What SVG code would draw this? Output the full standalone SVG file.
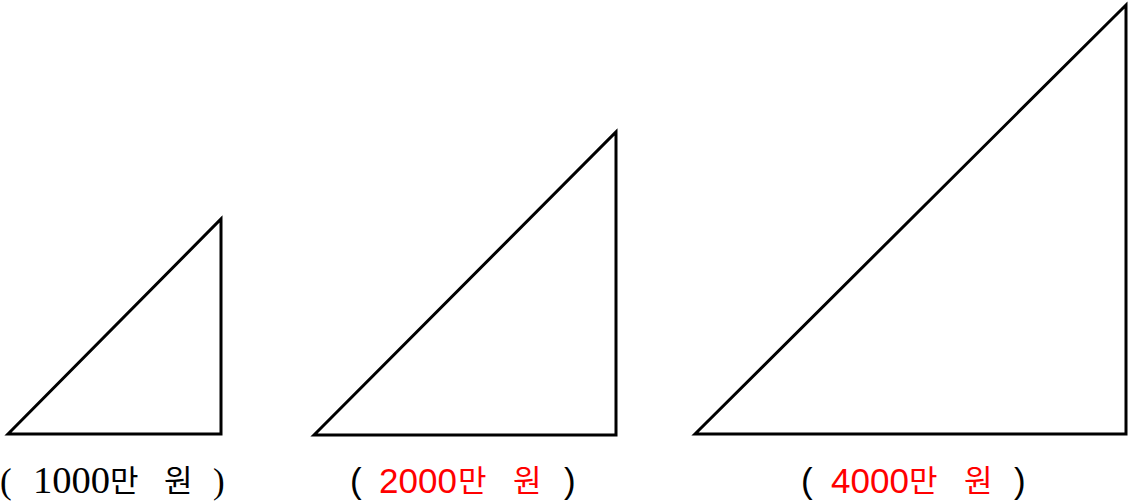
<svg xmlns="http://www.w3.org/2000/svg" width="1128" height="502" viewBox="0 0 1128 502">
<style>
.tri{fill:none;stroke:#000;stroke-width:3;stroke-linejoin:miter}
.serif{font-family:"Liberation Serif","Noto Sans CJK KR",serif;font-size:35px;fill:#000}
.sans{font-family:"Liberation Sans","Noto Sans CJK KR",sans-serif;font-size:35px}
.kr{font-family:"Noto Sans CJK KR",sans-serif;font-size:31px}
.blk{fill:#000}
.red{fill:#ff0000}
</style>
<rect width="1128" height="502" fill="#fff"/>
<g id="tri1"><polygon class="tri" points="8,434 221,219 221,434"/></g>
<g id="tri2"><polygon class="tri" points="314,435 616,132 616,435"/></g>
<g id="tri3"><polygon class="tri" points="695,434 1126,5 1126,434"/></g>
<g id="label1" class="serif">
<text x="0" y="493">(</text>
<text x="33" y="493" font-size="37" textLength="77" lengthAdjust="spacingAndGlyphs">1000</text>
<text class="kr" x="110" y="492">만</text>
<text class="kr" x="164" y="492">원</text>
<text x="213" y="493">)</text>
</g>
<g id="label2" class="sans">
<text class="blk" x="350" y="493">(</text>
<text class="red" x="379" y="493">2000</text>
<text class="red kr" x="458" y="492">만</text>
<text class="red kr" x="513" y="492">원</text>
<text class="blk" x="564" y="493">)</text>
</g>
<g id="label3" class="sans">
<text class="blk" x="801" y="493">(</text>
<text class="red" x="831" y="493">4000</text>
<text class="red kr" x="909" y="492">만</text>
<text class="red kr" x="964" y="492">원</text>
<text class="blk" x="1014" y="493">)</text>
</g>
</svg>
